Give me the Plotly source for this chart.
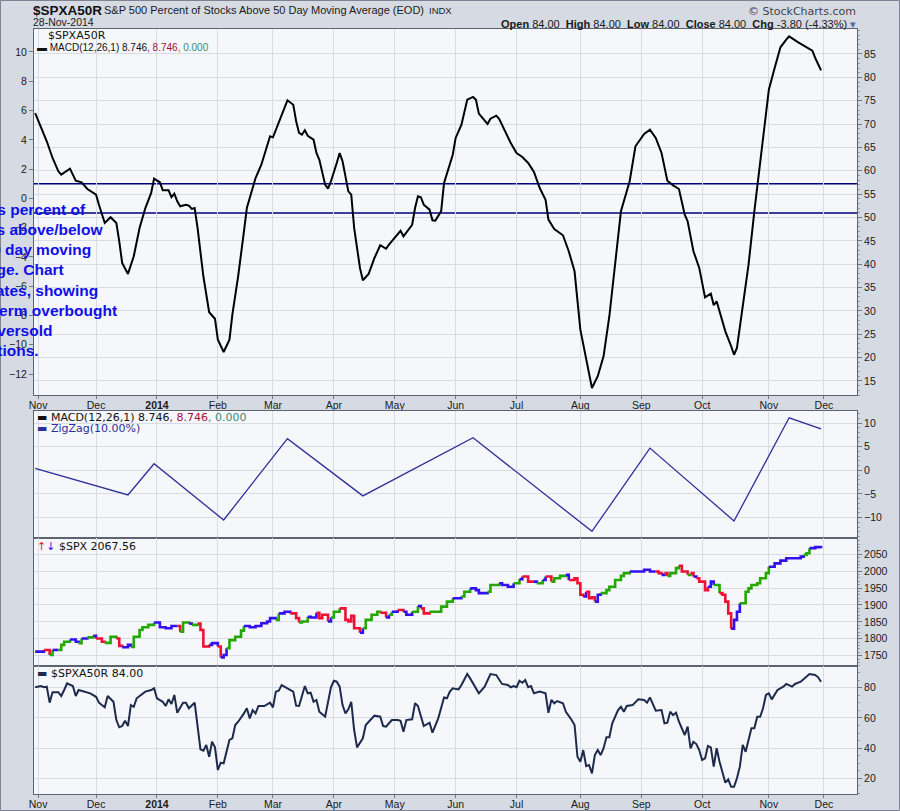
import pandas as pd
import plotly.graph_objects as go

# NYSE closures in the charted period (x axis is in trading sessions)
HOLIDAYS = ["2013-11-28", "2013-12-25", "2014-01-01", "2014-01-20", "2014-02-17",
            "2014-04-18", "2014-05-26", "2014-07-04", "2014-09-01", "2014-11-27", "2014-12-25"]
MONTHS = ["Jan", "Feb", "Mar", "Apr", "May", "Jun", "Jul", "Aug", "Sep", "Oct", "Nov", "Dec"]

# session number: 0 = 1-Nov-2013, -1 = 31-Oct-2013
# MACD(12,26,1) of $SPXA50R
macd_day = [-1, 1, 3, 5, 7, 8, 11, 13, 15, 17,
            20, 21, 23, 25, 27, 28, 29, 31, 33, 35,
            37, 39, 40, 42, 43, 45, 46, 47, 48, 49,
            51, 52, 53, 54, 55, 57, 59, 61, 62, 64,
            66, 67, 69, 71, 72, 73, 75, 77, 79, 80,
            81, 83, 85, 86, 88, 89, 90, 91, 92, 93,
            95, 96, 97, 99, 100, 101, 103, 104, 105, 107,
            108, 109, 111, 112, 114, 116, 118, 120, 121, 123,
            125, 126, 127, 129, 130, 131, 132, 133, 135, 136,
            137, 139, 140, 143, 144, 146, 148, 150, 151, 152,
            155, 156, 158, 159, 163, 165, 167, 169, 171, 173,
            175, 176, 178, 181, 183, 185, 187, 189, 191, 193,
            195, 197, 199, 201, 204, 206, 209, 211, 213, 215,
            217, 219, 221, 223, 224, 226, 228, 230, 232, 233,
            234, 237, 239, 240, 241, 243, 245, 247, 249, 251,
            252, 254, 256, 258, 259, 262, 264, 267, 268, 270]
macd_val = [5.83, 4.92, 3.90, 2.76, 1.85, 1.62, 2.03, 1.21, 1.10, 0.64,
            0.25, -0.43, -1.68, -1.29, -1.68, -2.93, -4.41, -5.16, -3.95, -2.02,
            -0.66, 0.37, 1.35, 1.10, 0.55, 0.55, 0.08, 0.32, -0.20, -0.54,
            -0.43, -0.50, -0.72, -0.66, -2.02, -5.32, -7.78, -8.22, -9.65, -10.49,
            -9.65, -7.94, -5.32, -2.25, -0.66, 0.03, 1.39, 2.30, 3.56, 4.24,
            4.17, 5.15, 6.17, 6.70, 6.40, 5.27, 4.47, 4.35, 4.65, 4.28,
            4.01, 3.10, 2.64, 0.94, 0.66, 1.17, 2.42, 3.10, 2.53, 0.48,
            0.25, -2.02, -4.75, -5.59, -5.16, -4.07, -3.20, -3.44, -3.16, -2.66,
            -2.21, -2.59, -2.32, -1.80, -0.66, 0.14, 0.08, -0.43, -0.77, -1.50,
            -1.52, -0.88, 1.05, 2.98, 4.13, 5.03, 6.74, 6.93, 6.74, 5.79,
            5.08, 5.44, 5.65, 5.44, 3.78, 3.10, 2.83, 2.42, 1.80, 0.71,
            -0.09, -1.45, -2.09, -2.52, -3.61, -4.98, -8.97, -10.90, -12.95, -12.15,
            -10.79, -8.05, -4.30, -0.88, 1.17, 3.56, 4.40, 4.69, 4.13, 3.10,
            1.21, 0.89, 0.64, -1.11, -1.56, -3.61, -4.75, -6.76, -6.51, -7.30,
            -7.03, -9.08, -10.10, -10.68, -10.22, -7.49, -4.53, -0.88, 2.53, 5.95,
            7.42, 8.91, 10.32, 10.84, 11.07, 10.68, 10.43, 10.09, 9.59, 8.746]
signal_levels = [1.0, -1.0]

# ZigZag(10%) of the MACD
zz_day = [-1, 31, 40, 64, 86, 112, 150, 191, 211, 240, 259, 270]
zz_val = [0.4, -5.2, 1.4, -10.5, 6.7, -5.4, 6.9, -12.9, 4.7, -10.7, 11.1, 8.75]

# $SPX closes, bar colour g/r/b
spx_day = [-1, 1, 2, 4, 5, 7, 8, 9, 11, 13,
           14, 15, 17, 19, 20, 22, 23, 25, 27, 28,
           29, 31, 32, 33, 35, 36, 38, 40, 42, 44,
           46, 48, 49, 50, 52, 53, 55, 56, 57, 59,
           60, 62, 63, 64, 65, 66, 68, 70, 71, 73,
           75, 77, 79, 80, 82, 83, 85, 87, 89, 90,
           91, 93, 94, 96, 97, 98, 100, 101, 102, 104,
           105, 106, 107, 108, 109, 111, 112, 113, 115, 117,
           118, 120, 121, 122, 124, 126, 127, 129, 131, 132,
           133, 135, 136, 139, 141, 143, 146, 147, 149, 151,
           152, 155, 156, 159, 160, 162, 164, 166, 167, 169,
           171, 172, 174, 175, 177, 178, 180, 182, 183, 185,
           186, 187, 188, 189, 190, 191, 192, 193, 194, 196,
           197, 199, 201, 202, 204, 206, 208, 209, 211, 213,
           214, 215, 216, 217, 218, 220, 221, 222, 224, 225,
           226, 227, 228, 230, 231, 232, 233, 235, 236, 237,
           238, 239, 240, 241, 242, 244, 245, 246, 248, 249,
           251, 252, 253, 254, 256, 258, 260, 263, 264, 265,
           266, 268, 270]
spx_close = [1762, 1762, 1767, 1752, 1767, 1767, 1782, 1791, 1798, 1791,
             1787, 1801, 1804, 1809, 1801, 1791, 1788, 1806, 1801, 1779,
             1775, 1782, 1776, 1806, 1826, 1834, 1841, 1848, 1834, 1831,
             1838, 1838, 1821, 1848, 1845, 1841, 1845, 1826, 1777, 1782,
             1787, 1777, 1745, 1752, 1772, 1796, 1806, 1824, 1838, 1834,
             1838, 1846, 1851, 1861, 1856, 1875, 1880, 1875, 1861, 1848,
             1851, 1865, 1863, 1877, 1861, 1871, 1851, 1863, 1880, 1890,
             1890, 1856, 1851, 1868, 1831, 1818, 1831, 1856, 1871, 1880,
             1877, 1863, 1871, 1880, 1885, 1880, 1871, 1880, 1897, 1890,
             1875, 1880, 1880, 1895, 1910, 1920, 1925, 1939, 1949, 1944,
             1935, 1939, 1959, 1964, 1959, 1954, 1964, 1976, 1984, 1969,
             1969, 1964, 1974, 1984, 1969, 1979, 1986, 1989, 1974, 1979,
             1964, 1930, 1925, 1939, 1920, 1923, 1910, 1930, 1935, 1944,
             1954, 1974, 1986, 1994, 1999, 1999, 1999, 2004, 1999, 1999,
             1994, 1989, 1994, 1986, 1994, 2009, 2016, 1999, 1989, 1994,
             1984, 1979, 1969, 1944, 1954, 1969, 1959, 1935, 1930, 1910,
             1875, 1830, 1856, 1880, 1905, 1939, 1949, 1959, 1964, 1979,
             1994, 2013, 2013, 2023, 2031, 2038, 2038, 2043, 2048, 2053,
             2068, 2071, 2067.56]
spx_color = ("bbbrgbgggb" "bgbgbrrggr" "rbbgggggbb" "bbrggbgrrr" "bbrbbggggb"
             "bbbbbgbbrr" "ggbbrrrbgg" "rrrrrrbggg" "grbgbrbbgb" "rrggggbggb"
             "bbggbbbgbr" "rbgbrgggbr" "rrrbrrrbbg" "gggggbbbbb" "rrbrgggrrg"
             "rbrrrbbgrr" "rrbbbggggg" "ggbbbbbbbg" "gbb")

# $SPXA50R itself
a50_day = [-1, 1, 2, 3, 4, 5, 7, 8, 9, 10,
           12, 13, 14, 16, 18, 20, 21, 23, 24, 26,
           27, 28, 29, 30, 31, 32, 33, 34, 36, 37,
           39, 40, 41, 43, 44, 45, 46, 47, 48, 50,
           51, 52, 54, 56, 57, 58, 59, 60, 61, 62,
           63, 64, 66, 67, 68, 69, 71, 72, 73, 74,
           75, 76, 78, 80, 81, 82, 83, 84, 86, 88,
           89, 90, 92, 93, 94, 95, 96, 97, 99, 100,
           101, 102, 103, 104, 105, 106, 107, 108, 109, 110,
           112, 113, 114, 116, 118, 119, 120, 122, 124, 125,
           126, 127, 129, 130, 131, 132, 133, 135, 136, 138,
           139, 140, 141, 142, 143, 145, 146, 148, 149, 152,
           154, 156, 158, 160, 162, 163, 164, 165, 166, 167,
           168, 169, 170, 171, 173, 175, 176, 177, 178, 179,
           181, 182, 184, 185, 186, 187, 188, 189, 190, 191,
           192, 193, 194, 195, 196, 197, 198, 200, 201, 202,
           203, 205, 207, 209, 210, 211, 213, 215, 216, 217,
           218, 219, 220, 221, 223, 224, 225, 226, 227, 228,
           229, 230, 231, 232, 233, 234, 235, 237, 238, 239,
           240, 241, 242, 243, 244, 246, 247, 248, 249, 250,
           251, 252, 253, 255, 257, 258, 260, 261, 263, 264,
           266, 268, 269, 270]
a50_val = [80.3, 81.1, 80.3, 80.7, 70.1, 77.0, 77.0, 74.5, 78.5, 82.9,
           81.1, 74.5, 78.5, 77.4, 76.3, 74.0, 70.1, 67.0, 74.5, 70.7,
           58.6, 53.8, 54.6, 58.1, 54.6, 68.5, 67.4, 73.0, 76.3, 77.4,
           78.5, 79.6, 73.0, 70.7, 67.9, 72.3, 69.2, 75.2, 63.4, 70.1,
           70.1, 66.4, 70.1, 39.2, 38.3, 42.1, 34.3, 44.2, 40.5, 25.5,
           30.3, 29.9, 45.4, 46.5, 55.3, 57.5, 63.0, 66.4, 59.7, 65.2,
           63.0, 67.9, 67.9, 70.1, 67.0, 77.4, 78.0, 81.8, 79.6, 77.4,
           68.1, 67.9, 81.1, 76.3, 76.7, 70.7, 71.9, 64.1, 60.8, 70.7,
           80.3, 84.6, 84.0, 80.7, 68.5, 63.0, 65.7, 70.7, 52.0, 40.5,
           46.5, 55.3, 57.5, 61.5, 60.8, 54.6, 54.2, 58.6, 58.6, 58.1,
           50.9, 58.6, 59.1, 69.7, 67.9, 61.9, 54.6, 56.8, 50.2, 59.7,
           67.4, 73.6, 73.0, 77.4, 79.6, 78.9, 81.8, 89.1, 86.2, 76.3,
           80.7, 89.1, 88.4, 82.5, 81.8, 80.3, 81.1, 80.3, 84.6, 83.3,
           85.1, 80.3, 81.1, 76.3, 77.4, 76.3, 63.4, 71.9, 69.7, 71.2,
           69.7, 64.1, 58.6, 55.3, 34.3, 31.0, 38.7, 28.1, 28.8, 23.3,
           35.4, 38.7, 35.4, 39.9, 47.2, 47.2, 56.4, 65.2, 67.4, 64.1,
           67.9, 68.5, 72.3, 71.9, 70.1, 73.6, 64.8, 65.2, 56.4, 56.8,
           64.1, 61.9, 63.4, 57.5, 48.7, 54.2, 39.9, 44.2, 42.7, 38.7,
           32.1, 33.2, 41.4, 40.5, 27.7, 39.9, 31.0, 17.1, 19.3, 14.4,
           14.4, 20.0, 27.7, 42.1, 37.6, 53.1, 53.1, 60.8, 60.8, 66.4,
           75.2, 76.3, 72.3, 78.5, 80.7, 82.5, 80.7, 82.5, 84.0, 85.6,
           89.1, 88.4, 86.9, 84.0]

note_lines = ["Shows percent of", "stocks above/below", "the 50 day moving", "average. Chart",
              "oscillates, showing", "near-term overbought", "and oversold", "conditions."]

# month ticks at the first session of each month
sessions = pd.bdate_range("2013-11-01", "2014-12-31").difference(pd.to_datetime(HOLIDAYS))
first_session = {}
for i, d in enumerate(sessions):
    first_session.setdefault((d.year, d.month), i)
tick_pos = list(first_session.values())
tick_txt = ["<b>%d</b>" % y if m == 1 else MONTHS[m - 1] for (y, m) in first_session]

W, H = 900, 811
L, R, T, B = 34, 43, 29, 17
PW, PH = W - L - R, H - T - B


def px(x):
    return (x - L) / PW


def py(y):
    return (H - B - y) / PH


BG = "#d5dae3"
PLOT_BG = "#f5f7fb"
GRID = "#d8dce3"
FRAME = "#5c6372"
TICKFONT = dict(family="Liberation Sans, Arial", size=10.5, color="#1a1a1a")
SPX_COLORS = {"g": "#22a800", "r": "#ee1133", "b": "#3311ee"}

fig = go.Figure()

fig.add_trace(go.Scatter(x=macd_day, y=macd_val, mode="lines", xaxis="x", yaxis="y",
                         line=dict(color="#000000", width=2)))
# price scale of the (hidden) $SPXA50R plot behind the MACD
fig.add_trace(go.Scatter(x=a50_day, y=a50_val, mode="lines", xaxis="x", yaxis="y5",
                         opacity=0, line=dict(width=0.1), hoverinfo="skip"))
fig.add_trace(go.Scatter(x=zz_day, y=zz_val, mode="lines", xaxis="x2", yaxis="y2",
                         line=dict(color="#2e2e98", width=1.3)))

start = 0
for i in range(1, len(spx_day) + 1):
    if i == len(spx_day) or spx_color[i] != spx_color[start]:
        lo = max(start - 1, 0)
        fig.add_trace(go.Scatter(x=spx_day[lo:i], y=spx_close[lo:i], mode="lines",
                                 xaxis="x3", yaxis="y3",
                                 line=dict(color=SPX_COLORS[spx_color[start]], width=2.6, shape="hv")))
        start = i

fig.add_trace(go.Scatter(x=a50_day, y=a50_val, mode="lines", xaxis="x4", yaxis="y4",
                         line=dict(color="#1d2a4c", width=2)))

xcommon = dict(range=[-1.4, 282.4], tickvals=tick_pos, ticktext=tick_txt, showgrid=True,
               gridcolor=GRID, zeroline=False, showline=True, mirror=True, linecolor=FRAME,
               tickfont=TICKFONT, tickcolor="#777", ticklen=3, ticklabelstandoff=-3,
               automargin=False)
ycommon = dict(showline=True, mirror=True, linecolor=FRAME, zeroline=False, gridcolor=GRID,
               tickfont=TICKFONT, ticks="outside", ticklen=4, tickcolor="#777", automargin=False)

fig.update_layout(
    xaxis=dict(xcommon, anchor="y", ticks="outside"),
    xaxis2=dict(xcommon, anchor="y2", matches="x", showticklabels=False, ticks=""),
    xaxis3=dict(xcommon, anchor="y3", matches="x", showticklabels=False, ticks=""),
    xaxis4=dict(xcommon, anchor="y4", matches="x", ticks="outside"),
    yaxis=dict(ycommon, domain=[py(395), 1], anchor="x", side="left", range=[-13.43, 11.57],
               tickvals=list(range(-12, 11, 2)), showgrid=False),
    yaxis5=dict(ycommon, overlaying="y", anchor="x", side="right", range=[12.0, 90.35],
                tickvals=list(range(15, 86, 5)), showgrid=True, showline=False,
                minor=dict(ticks="outside", ticklen=2, tickcolor="#999", dtick=1, showgrid=False)),
    yaxis2=dict(ycommon, domain=[py(538), py(411)], anchor="x2", side="right",
                range=[-14.3, 12.54], tickvals=[-10, -5, 0, 5, 10],
                minor=dict(ticks="outside", ticklen=2, tickcolor="#999", dtick=1, showgrid=False)),
    yaxis3=dict(ycommon, domain=[py(666), py(538)], anchor="x3", side="right",
                range=[1719.5, 2098], tickvals=list(range(1750, 2051, 50)),
                minor=dict(ticks="outside", ticklen=2, tickcolor="#999", dtick=10, showgrid=False)),
    yaxis4=dict(ycommon, domain=[0, py(666)], anchor="x4", side="right",
                range=[9.6, 94.4], tickvals=[20, 40, 60, 80],
                minor=dict(ticks="outside", ticklen=2, tickcolor="#999", dtick=5, showgrid=False)),
    width=W, height=H, margin=dict(l=L, r=R, t=T, b=B, autoexpand=False),
    paper_bgcolor=BG, plot_bgcolor=PLOT_BG, showlegend=False, hovermode=False,
    font=dict(family="Liberation Sans, Arial", color="#111"),
)

for lvl in signal_levels:
    fig.add_shape(type="line", xref="paper", yref="y", x0=0, x1=1, y0=lvl, y1=lvl,
                  line=dict(color="#000080", width=1.3), layer="between")

# outer frame of the image
fig.add_shape(type="rect", xref="paper", yref="paper", x0=px(0.5), x1=px(W - 0.5),
              y0=py(H - 0.5), y1=py(0.5), line=dict(color="#7c8392", width=1), layer="above")


def text(x, y, s, size=11, family="DejaVu Sans", color="#111", xanchor="left"):
    fig.add_annotation(x=px(x), y=py(y), xref="paper", yref="paper", text=s, showarrow=False,
                       xanchor=xanchor, yanchor="middle", font=dict(family=family, size=size, color=color))


# header
text(31, 10, "<b>$SPXA50R</b>", size=13.5, family="Liberation Sans")
text(102, 10, "S&amp;P 500 Percent of Stocks Above 50 Day Moving Average (EOD)", size=11,
     family="Liberation Sans", color="#1a1a1a")
text(427, 10, "INDX", size=9.5, family="Liberation Sans", color="#1a1a1a")
text(31, 22, "28-Nov-2014", size=10.5, family="Liberation Sans", color="#1a1a1a")
text(858, 11, "© StockCharts.com", size=11, family="DejaVu Sans", color="#444", xanchor="right")
text(858, 24, "<b>Open</b> 84.00 &nbsp;<b>High</b> 84.00 &nbsp;<b>Low</b> 84.00 &nbsp;"
     "<b>Close</b> 84.00 &nbsp;<b>Chg</b> -3.80 (-4.33%) <span style='color:#4a6fa5'>▾</span>",
     size=11, family="Liberation Sans", color="#1a1a1a", xanchor="right")

# panel legends
text(46, 36, "$SPXA50R", size=11)
text(35, 47, "▬ MACD(12,26,1) 8.746<span style='color:#a0103c'>, 8.746</span>"
     "<span style='color:#3a8a76'>, 0.000</span>", size=10, family="Liberation Sans")
text(35, 417, "▬ MACD(12,26,1) 8.746<span style='color:#a0103c'>, 8.746</span>"
     "<span style='color:#3a8a76'>, 0.000</span>", size=11)
text(35, 429, "▬ ZigZag(10.00%)", size=11, color="#2e2e98")
text(35, 546, "<span style='color:#ee1133'>↑</span><span style='color:#3311ee'>↓</span>"
     " $SPX 2067.56", size=11)
text(35, 673, "<span style='color:#1d2a4c'>▬</span> $SPXA50R 84.00", size=11)

# note box, partly cut off at the left edge of the image
fig.add_annotation(x=px(-46), y=py(199), xref="paper", yref="paper", text="<br>".join(note_lines),
                   showarrow=False, xanchor="left", yanchor="top", align="left",
                   font=dict(family="Liberation Sans", size=15.5, color="#0f0fe8", weight="bold"))

# page body has a default margin; drop it so the chart sits at the window corner
fig.write_html("out.html", config={"displayModeBar": False},
               post_script="document.body.style.margin='0';")
